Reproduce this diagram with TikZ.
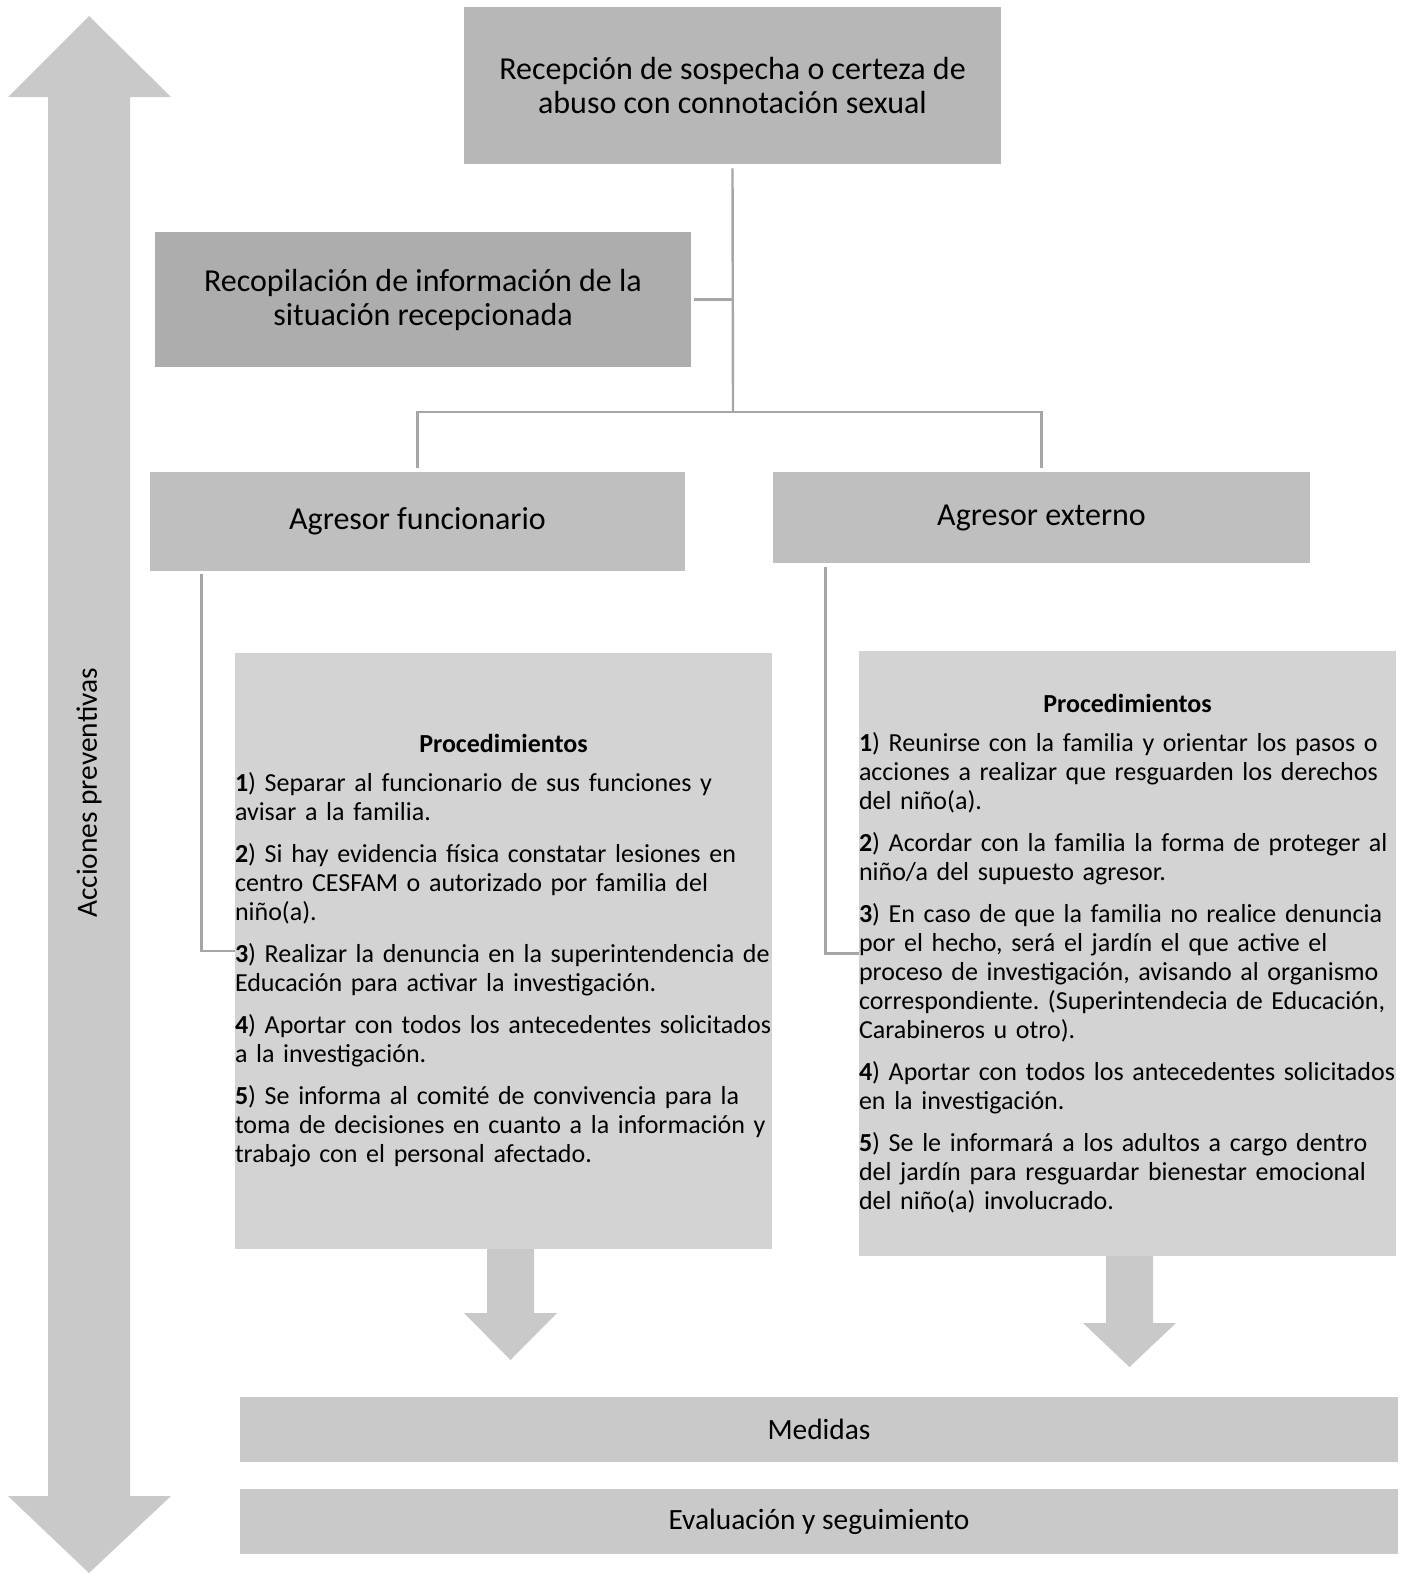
\documentclass[tikz,border=0pt]{standalone}
\usepackage{fontspec}
\setmainfont{Carlito}
\frenchspacing
\definecolor{TopGray}{HTML}{B7B7B7}
\definecolor{RecGray}{HTML}{ADADAD}
\definecolor{AgrGray}{HTML}{BFBFBF}
\definecolor{ProcGray}{HTML}{D3D3D3}
\definecolor{BarGray}{HTML}{C9C9C9}
\definecolor{LinkGray}{HTML}{A6A6A6}

\begin{document}
\begin{tikzpicture}[x=0.5pt,y=-0.5pt,font=\fontsize{16}{17}\selectfont,
  box/.style={fill=#1,inner sep=0pt,align=center},
  proc/.style={fill=ProcGray,inner sep=0pt,text width=268.5pt,align=left,
    font=\fontsize{13}{14.5}\selectfont},
  bar/.style={fill=BarGray,inner sep=0pt,minimum width=579pt,minimum height=32.5pt,
    font=\fontsize{14.7}{16}\selectfont},
  link/.style={draw=LinkGray,line width=1.2pt}]
\useasboundingbox (0,0) rectangle (1406,1574);
% flecha lateral
\fill[BarGray] (89,16)--(171,97)--(130,97)--(130,1496)--(171,1496)--(89,1573)
 --(8,1496)--(48,1496)--(48,97)--(8,97)--cycle;
\node[rotate=90,font=\fontsize{14.7}{16}\selectfont] (prev) at (89,793) {Acciones preventivas};
% cajas
\node[box=TopGray,minimum width=268.5pt,minimum height=78.5pt] (recep) at (732.5,85.5)
 {Recepción de sospecha o certeza de\\abuso con connotación sexual};
\node[box=RecGray,minimum width=268pt,minimum height=67.5pt] (recop) at (423,299.5)
 {Recopilación de información de la\\situación recepcionada};
\node[box=AgrGray,minimum width=267.5pt,minimum height=49.5pt] (funci) at (417.5,521.5)
 {Agresor funcionario};
\node[box=AgrGray,minimum width=268.5pt,minimum height=45.5pt] (exter) at (1041.5,517.5)
 {Agresor externo};
\node[proc,minimum height=298pt] (procf) at (503.5,951) {%
\makebox[268.5pt]{\textbf{Procedimientos}}\\[5pt]
\textbf{1}) Separar al funcionario de sus funciones y\\
avisar a la familia.\\[6.5pt]
\textbf{2}) Si hay evidencia física constatar lesiones en\\
centro CESFAM o autorizado por familia del\\
niño(a).\\[6.5pt]
\textbf{3}) Realizar la denuncia en la superintendencia de\\
Educación para activar la investigación.\\[6.5pt]
\textbf{4}) Aportar con todos los antecedentes solicitados\\
a la investigación.\\[6.5pt]
\textbf{5}) Se informa al comité de convivencia para la\\
toma de decisiones en cuanto a la información y\\
trabajo con el personal afectado.};
\node[proc,minimum height=302.5pt] (proce) at (1127.5,953.5) {%
\makebox[268.5pt]{\textbf{Procedimientos}}\\[5pt]
\textbf{1}) Reunirse con la familia y orientar los pasos o\\
acciones a realizar que resguarden los derechos\\
del niño(a).\\[6.5pt]
\textbf{2}) Acordar con la familia la forma de proteger al\\
niño/a del supuesto agresor.\\[6.5pt]
\textbf{3}) En caso de que la familia no realice denuncia\\
por el hecho, será el jardín el que active el\\
proceso de investigación, avisando al organismo\\
correspondiente. (Superintendecia de Educación,\\
Carabineros u otro).\\[6.5pt]
\textbf{4}) Aportar con todos los antecedentes solicitados\\
en la investigación.\\[6.5pt]
\textbf{5}) Se le informará a los adultos a cargo dentro\\
del jardín para resguardar bienestar emocional\\
del niño(a) involucrado.};
\node[bar] (medid) at (819,1429.5) {Medidas};
\node[bar] (evalu) at (819,1521.5) {Evaluación y seguimiento};
% conectores
\coordinate (split) at (733,412);
\draw[link] ([yshift=-2pt]recep.south) -- (split);
\draw[link] ([xshift=1.5pt]recop.east) -- (recop.east -| split);
\draw[link] ([yshift=2pt]funci.north) |- (split) -| ([yshift=2pt]exter.north);
\draw[link] ([xshift=26pt,yshift=-1.5pt]funci.south west) |- (procf.west);
\draw[link] ([xshift=26.5pt,yshift=-2pt]exter.south west) |- (proce.west);
% flechas hacia medidas
\fill[BarGray] (487,1249)--(534,1249)--(534,1313)--(557,1313)--(510.5,1360)
 --(464,1313)--(487,1313)--cycle;
\fill[BarGray] (1106,1256)--(1153,1256)--(1153,1323)--(1176,1323)--(1129.5,1367)
 --(1083,1323)--(1106,1323)--cycle;
\end{tikzpicture}
\end{document}
